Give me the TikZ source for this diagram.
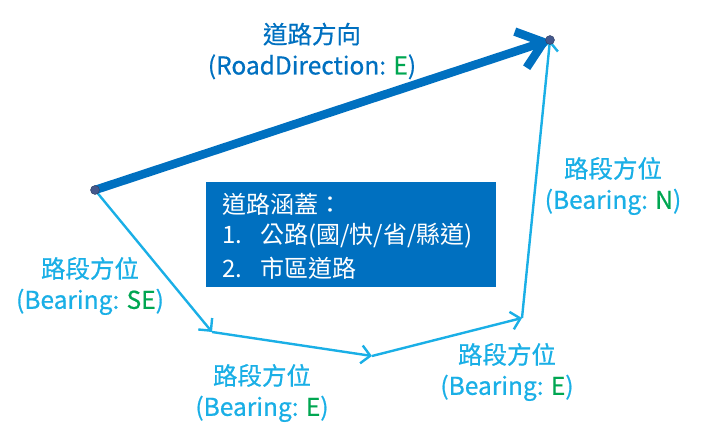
\documentclass[tikz,border=0pt]{standalone}
\usepackage{fontspec}
\setmainfont{Noto Sans CJK TC}
\newfontfamily\labfont[FakeBold=0.6]{Noto Sans CJK TC}
\usetikzlibrary{arrows.meta}
\definecolor{roadblue}{HTML}{0070C0}
\definecolor{segcyan}{HTML}{1AAFE6}
\definecolor{labgreen}{HTML}{00A651}
\definecolor{dotblue}{HTML}{44588C}
\begin{document}
\begin{tikzpicture}[x=1pt,y=-1pt,
  seg/.style={segcyan,line width=2.4pt,-{Straight Barb[length=9pt,width=18pt,line width=2.4pt]}},
  roadarrow/.style={roadblue,line width=8.5pt,line cap=round,-{Straight Barb[length=24pt,width=38pt,line width=8.5pt]}},
  seglabel/.style={segcyan,font=\labfont\fontsize{24.5}{31}\selectfont,align=center},
  roadlabel/.style={roadblue,font=\labfont\fontsize{24.5}{31}\selectfont,align=center},
  boxline/.style={white,font=\fontsize{24}{30}\selectfont,anchor=west,inner sep=0pt},
  dotpt/.style={circle,fill=dotblue,draw=dotblue!70!black,inner sep=0pt,minimum size=9pt}]
\useasboundingbox (0,0) rectangle (702,438);
\coordinate (A) at (95,190);
\coordinate (P1) at (212,332);
\coordinate (P2) at (372,356);
\coordinate (P3) at (522,318);
\coordinate (B) at (550,40);
\draw[seg] (A) -- (P1);
\draw[seg] (P1) -- (P2);
\draw[seg] (P2) -- (P3);
\draw[seg] (P3) -- (B);
\draw[roadarrow] (A) -- (B);
\node[dotpt] (dA) at (A) {};
\node[dotpt] (dB) at (B) {};
\node[fill=roadblue,minimum width=290pt,minimum height=105pt,anchor=north west,inner sep=0pt] (box) at (206,182) {};
\node[boxline] (b1) at (222,204) {道路涵蓋：};
\node[boxline] (b2) at (222,236) {\makebox[38pt][l]{1.}公路(國/快/省/縣道)};
\node[boxline] (b3) at (222,268) {\makebox[38pt][l]{2.}市區道路};
\node[roadlabel] (rl) at (312,51) {道路方向\\(RoadDirection: \textcolor{labgreen}{E})};
\node[seglabel] (l1) at (90,286) {路段方位\\(Bearing: \textcolor{labgreen}{SE})};
\node[seglabel] (l2) at (262,393) {路段方位\\(Bearing: \textcolor{labgreen}{E})};
\node[seglabel] (l3) at (507,372) {路段方位\\(Bearing: \textcolor{labgreen}{E})};
\node[seglabel] (l4) at (613,186) {路段方位\\(Bearing: \textcolor{labgreen}{N})};
\end{tikzpicture}
\end{document}
